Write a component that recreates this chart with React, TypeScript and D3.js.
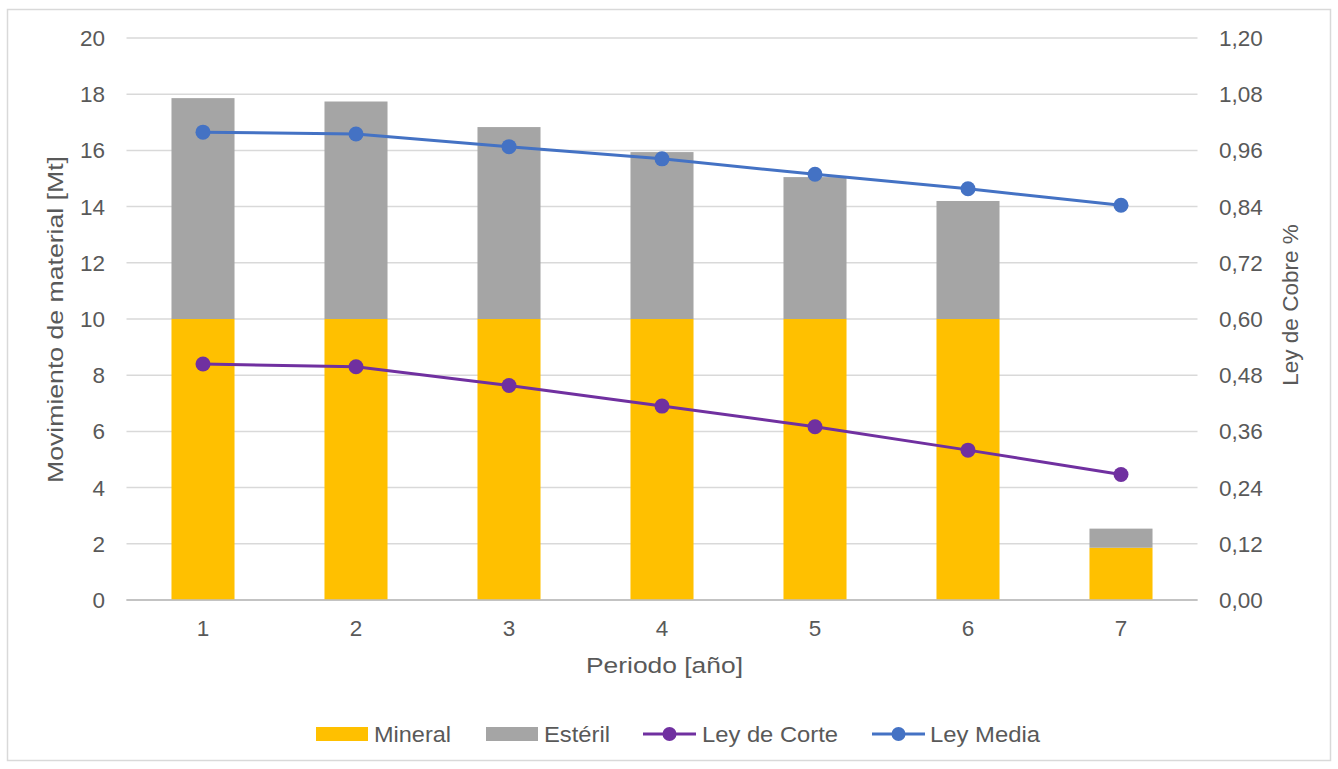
import React from "react";
import * as d3 from "d3";

// Production schedule per period
const periods = ["1", "2", "3", "4", "5", "6", "7"];
const mineral = [10, 10, 10, 10, 10, 10, 1.86];
const esteril = [7.86, 7.74, 6.83, 5.94, 5.05, 4.2, 0.68];
const leyCorte = [0.504, 0.498, 0.458, 0.414, 0.37, 0.32, 0.268];
const leyMedia = [0.999, 0.995, 0.968, 0.942, 0.909, 0.878, 0.843];

const leftTicks = [0, 2, 4, 6, 8, 10, 12, 14, 16, 18, 20];
const rightTicks = [0, 0.12, 0.24, 0.36, 0.48, 0.6, 0.72, 0.84, 0.96, 1.08, 1.2];

const COLORS = {
  mineral: "#ffc000",
  esteril: "#a5a5a5",
  corte: "#7030a0",
  media: "#4472c4",
  text: "#595959",
  grid: "#d9d9d9",
  axis: "#bfbfbf",
};

const FONT = "'Liberation Sans', Arial, Helvetica, sans-serif";

const W = 1338;
const H = 769;
const plot = { left: 126.5, right: 1197.5, top: 38, bottom: 600 };

export default function App() {
  const x = d3
    .scaleBand<string>()
    .domain(periods)
    .range([plot.left, plot.right])
    .paddingInner(0.588)
    .paddingOuter(0.294);
  const bw = x.bandwidth();
  const cx = (p: string) => (x(p) as number) + bw / 2;

  const yL = d3.scaleLinear().domain([0, 20]).range([plot.bottom, plot.top]);
  const yR = d3.scaleLinear().domain([0, 1.2]).range([plot.bottom, plot.top]);

  const line = d3
    .line<number>()
    .x((_, i) => cx(periods[i]))
    .y((v) => yR(v));

  const fmtR = (v: number) => v.toFixed(2).replace(".", ",");

  const legendItems = [
    { label: "Mineral", kind: "rect", color: COLORS.mineral, x: 316, tx: 374, tl: 77 },
    { label: "Estéril", kind: "rect", color: COLORS.esteril, x: 486, tx: 544, tl: 66 },
    { label: "Ley de Corte", kind: "line", color: COLORS.corte, x: 643, tx: 702, tl: 136 },
    { label: "Ley Media", kind: "line", color: COLORS.media, x: 872, tx: 930, tl: 110 },
  ];

  return (
    <svg
      width={W}
      height={H}
      style={{ position: "absolute", left: 0, top: 0, background: "#fff" }}
      fontFamily={FONT}
    >
      <rect x={7.5} y={9.5} width={1323} height={751} fill="#fff" stroke={COLORS.grid} strokeWidth={1.5} />

      {/* gridlines */}
      {leftTicks.map((t) => (
        <line
          key={"g" + t}
          x1={plot.left}
          x2={plot.right}
          y1={yL(t)}
          y2={yL(t)}
          stroke={t === 0 ? COLORS.axis : COLORS.grid}
          strokeWidth={1.5}
        />
      ))}

      {/* stacked bars */}
      {periods.map((p, i) => (
        <g key={"b" + p}>
          <rect x={x(p)} y={yL(mineral[i])} width={bw} height={yL(0) - yL(mineral[i])} fill={COLORS.mineral} />
          <rect
            x={x(p)}
            y={yL(mineral[i] + esteril[i])}
            width={bw}
            height={yL(mineral[i]) - yL(mineral[i] + esteril[i])}
            fill={COLORS.esteril}
          />
        </g>
      ))}
      <line x1={plot.left} x2={plot.right} y1={yL(0)} y2={yL(0)} stroke={COLORS.axis} strokeWidth={1.5} />

      {/* grade lines */}
      <path d={line(leyCorte) || ""} fill="none" stroke={COLORS.corte} strokeWidth={3} />
      {leyCorte.map((v, i) => (
        <circle key={"c" + i} cx={cx(periods[i])} cy={yR(v)} r={7.5} fill={COLORS.corte} />
      ))}
      <path d={line(leyMedia) || ""} fill="none" stroke={COLORS.media} strokeWidth={3} />
      {leyMedia.map((v, i) => (
        <circle key={"m" + i} cx={cx(periods[i])} cy={yR(v)} r={7.5} fill={COLORS.media} />
      ))}

      {/* left axis labels */}
      {leftTicks.map((t) => (
        <text key={"l" + t} x={105} y={yL(t) + 8} textAnchor="end" fontSize={22.5} fill={COLORS.text}>
          {t}
        </text>
      ))}
      {/* right axis labels */}
      {rightTicks.map((t) => (
        <text key={"r" + t} x={1219} y={yR(t) + 8} textAnchor="start" fontSize={22.5} fill={COLORS.text}>
          {fmtR(t)}
        </text>
      ))}
      {/* category labels */}
      {periods.map((p) => (
        <text key={"x" + p} x={cx(p)} y={636} textAnchor="middle" fontSize={22.5} fill={COLORS.text}>
          {p}
        </text>
      ))}

      {/* axis titles */}
      <text
        x={664.5}
        y={673}
        textAnchor="middle"
        fontSize={22.5}
        fill={COLORS.text}
        textLength={157}
        lengthAdjust="spacingAndGlyphs"
      >
        Periodo [año]
      </text>
      <text
        transform={`translate(63,${319.5}) rotate(-90)`}
        textAnchor="middle"
        fontSize={22.5}
        fill={COLORS.text}
        textLength={327}
        lengthAdjust="spacingAndGlyphs"
      >
        Movimiento de material [Mt]
      </text>
      <text
        transform={`translate(1298,${305}) rotate(-90)`}
        textAnchor="middle"
        fontSize={22.5}
        fill={COLORS.text}
      >
        Ley de Cobre %
      </text>

      {/* legend */}
      {legendItems.map((it) => (
        <g key={it.label}>
          {it.kind === "rect" ? (
            <rect x={it.x} y={727} width={52} height={14} fill={it.color} />
          ) : (
            <g>
              <line x1={it.x} x2={it.x + 53} y1={734} y2={734} stroke={it.color} strokeWidth={3} />
              <circle cx={it.x + 26.5} cy={734} r={7} fill={it.color} />
            </g>
          )}
          <text
            x={it.tx}
            y={742}
            fontSize={22.5}
            fill={COLORS.text}
            textLength={it.tl}
            lengthAdjust="spacingAndGlyphs"
          >
            {it.label}
          </text>
        </g>
      ))}
    </svg>
  );
}
